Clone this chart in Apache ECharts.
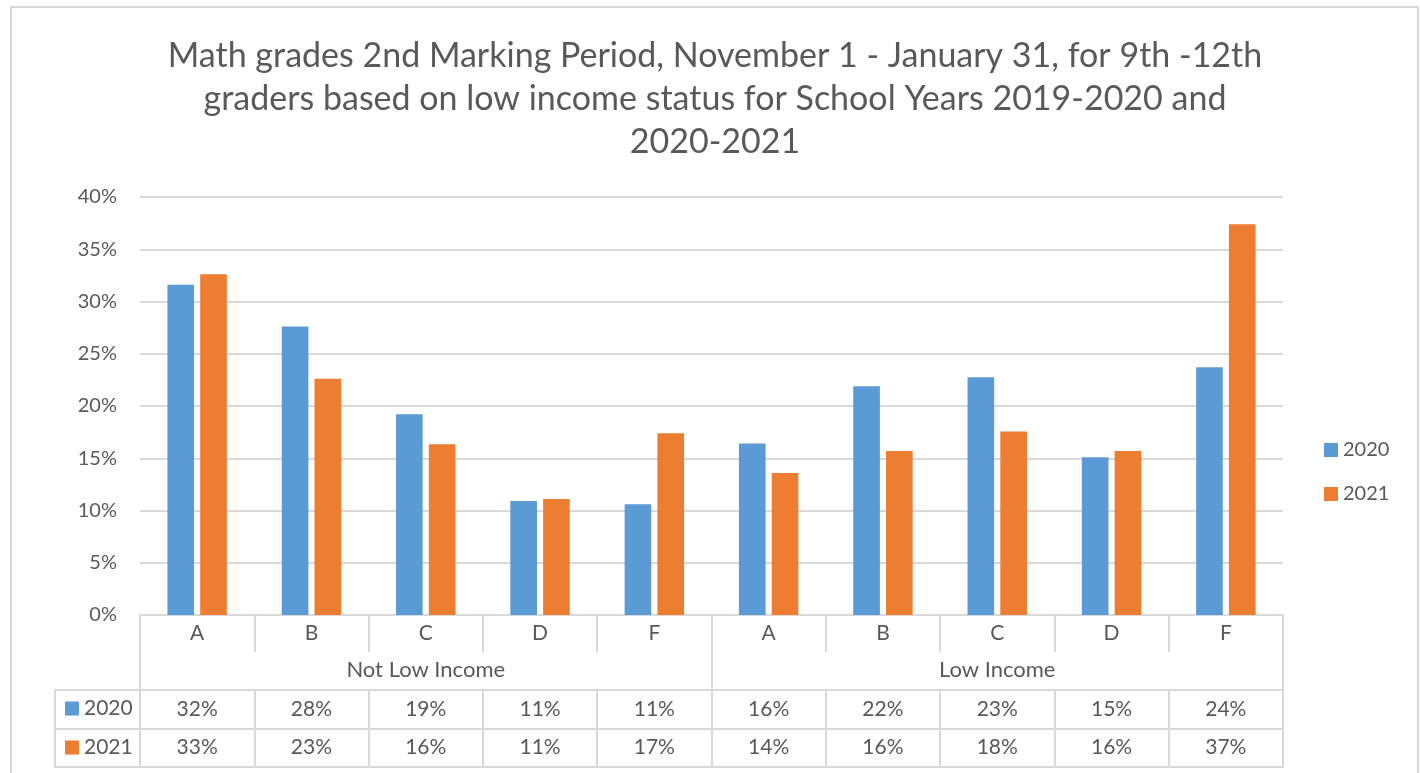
<!DOCTYPE html>
<html><head><meta charset="utf-8">
<script src="https://cdn.jsdelivr.net/npm/echarts@6/dist/echarts.min.js"></script>
<style>html,body{margin:0;padding:0;background:#fff}#c{width:1420px;height:773px}</style>
</head><body><div id="c"></div>
<script>
const titleText = 'Math grades 2nd Marking Period, November 1 - January 31, for 9th -12th\ngraders based on low income status for School Years 2019-2020 and\n2020-2021';
const groups = ['Not Low Income', 'Low Income'];
const grades = ['A', 'B', 'C', 'D', 'F', 'A', 'B', 'C', 'D', 'F'];
const seriesNames = ['2020', '2021'];
const values2020 = [31.6, 27.6, 19.2, 10.9, 10.6, 16.4, 21.9, 22.75, 15.1, 23.7];
const values2021 = [32.6, 22.6, 16.35, 11.1, 17.4, 13.6, 15.7, 17.55, 15.7, 37.4];
const colors = ['#5B9BD5', '#ED7D31'];

const FONT = 'Lato';
const TXT = '#595959';
const LINE = '#D9D9D9';
const keys = grades.map((g, i) => 'c' + i);

function tableAxis(vals, offset, tickLen, margin) {
  return {
    type: 'category', gridIndex: 0, position: 'bottom', offset: offset, data: keys,
    axisLine: { show: true, lineStyle: { color: LINE, width: 2 } },
    axisTick: { show: tickLen > 0, length: tickLen, interval: 0, lineStyle: { color: LINE, width: 2 } },
    axisLabel: { show: !!vals, interval: 0, margin: margin, fontSize: 21, color: TXT, fontFamily: FONT,
      formatter: (v, i) => vals ? Math.round(vals[i]) + '%' : '' },
    splitLine: { show: false }
  };
}

const chart = echarts.init(document.getElementById('c'), null, { renderer: 'canvas' });
chart.setOption({
  animation: false,
  backgroundColor: '#fff',
  color: colors,
  title: {
    text: titleText, left: 715, top: 35, padding: 0, textAlign: 'center', textVerticalAlign: 'top',
    textStyle: { fontFamily: FONT, fontSize: 34, lineHeight: 43, fontWeight: 'normal', color: TXT }
  },
  legend: [
    { data: seriesNames, orient: 'vertical', left: 1324, top: 440, padding: 0, itemWidth: 14, itemHeight: 14,
      itemGap: 24, icon: 'rect', selectedMode: false,
      textStyle: { fontSize: 20, color: TXT, fontFamily: FONT } },
    { data: seriesNames, orient: 'vertical', left: 65, top: 698, padding: 0, itemWidth: 14, itemHeight: 14,
      itemGap: 18, icon: 'rect', selectedMode: false,
      textStyle: { fontSize: 21, color: TXT, fontFamily: FONT } }
  ],
  grid: { left: 140, right: 137, top: 197, bottom: 158, containLabel: false },
  xAxis: [
    {
      type: 'category', position: 'bottom', data: keys,
      axisLine: { show: true, lineStyle: { color: LINE, width: 2 } },
      axisTick: { show: true, length: 37, interval: 0, lineStyle: { color: LINE, width: 2 } },
      axisLabel: { interval: 0, margin: 8, fontSize: 21, color: TXT, fontFamily: FONT, formatter: (v, i) => grades[i] },
      splitLine: { show: false }
    },
    {
      type: 'category', position: 'bottom', offset: 0, data: groups,
      axisLine: { show: false },
      axisTick: { show: true, length: 75, interval: 0, lineStyle: { color: LINE, width: 2 } },
      axisLabel: { interval: 0, margin: 44, fontSize: 22, color: TXT, fontFamily: FONT },
      splitLine: { show: false }
    },
    tableAxis(values2020, 75, 39, 9),
    tableAxis(values2021, 114, 38, 8),
    tableAxis(null, 152, 0, 0)
  ],
  yAxis: {
    type: 'value', min: 0, max: 40, interval: 5,
    axisLine: { show: false }, axisTick: { show: false },
    axisLabel: { formatter: '{value}%', margin: 23, fontSize: 20, color: TXT, fontFamily: FONT },
    splitLine: { lineStyle: { color: LINE, width: 2 } }
  },
  series: [
    { name: seriesNames[0], type: 'bar', data: values2020, barGap: '23%', barCategoryGap: '48%', itemStyle: { color: colors[0] } },
    { name: seriesNames[1], type: 'bar', data: values2021, barGap: '23%', barCategoryGap: '48%', itemStyle: { color: colors[1] } }
  ],
  graphic: [
    { type: 'rect', silent: true, shape: { x: 11, y: 7, width: 1407, height: 800 }, style: { fill: 'none', stroke: LINE, lineWidth: 2 } },
    { type: 'line', silent: true, shape: { x1: 55, y1: 690, x2: 140, y2: 690 }, style: { stroke: LINE, lineWidth: 2 } },
    { type: 'line', silent: true, shape: { x1: 55, y1: 729, x2: 140, y2: 729 }, style: { stroke: LINE, lineWidth: 2 } },
    { type: 'line', silent: true, shape: { x1: 55, y1: 767, x2: 140, y2: 767 }, style: { stroke: LINE, lineWidth: 2 } },
    { type: 'line', silent: true, shape: { x1: 55, y1: 689, x2: 55, y2: 768 }, style: { stroke: LINE, lineWidth: 2 } }
  ]
});
</script>
</body></html>
